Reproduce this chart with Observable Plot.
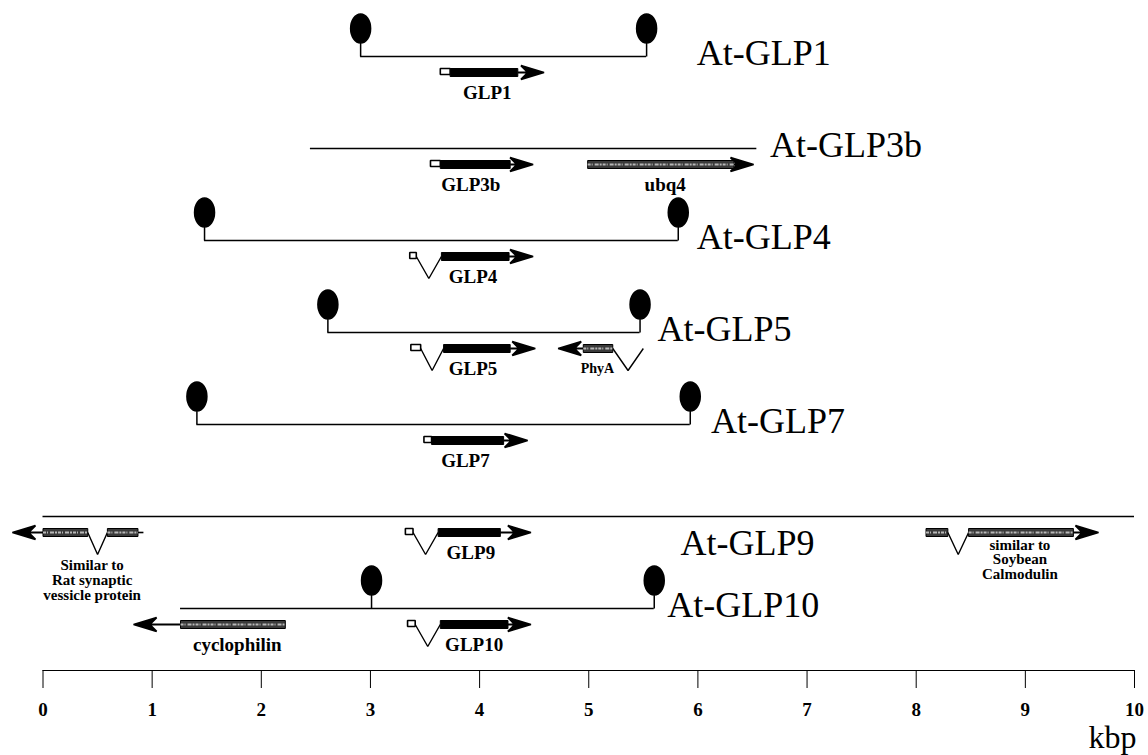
<!DOCTYPE html>
<html>
<head>
<meta charset="utf-8">
<script src="https://cdn.jsdelivr.net/npm/d3@7"></script>
<script src="https://cdn.jsdelivr.net/npm/@observablehq/plot@0.6"></script>
<style>
  html, body { margin: 0; padding: 0; background: #fff; }
  #chart svg { display: block; }
  #chart svg [aria-label="x-axis tick label"],
  #chart svg [aria-label="x-axis tick label"] text,
  #chart svg [aria-label="x-axis"] text { font-size: 19px !important; font-weight: bold; }
</style>
</head>
<body>
<div id="chart"></div>
<script>
// ---------------- data (kbp) ----------------
const rows = ["At-GLP1", "At-GLP3b", "At-GLP4", "At-GLP5", "At-GLP7", "At-GLP9", "At-GLP10"];

const backbones = [
  {row: "At-GLP1", start: 2.91, end: 5.53},
  {row: "At-GLP3b", start: 2.45, end: 6.54},
  {row: "At-GLP4", start: 1.48, end: 5.82},
  {row: "At-GLP5", start: 2.61, end: 5.47},
  {row: "At-GLP7", start: 1.41, end: 5.93},
  {row: "At-GLP9", start: 0.0, end: 10.0},
  {row: "At-GLP10", start: 1.26, end: 5.60}
];

const lollipops = [
  {row: "At-GLP1", pos: 2.91}, {row: "At-GLP1", pos: 5.53},
  {row: "At-GLP4", pos: 1.48}, {row: "At-GLP4", pos: 5.82},
  {row: "At-GLP5", pos: 2.61}, {row: "At-GLP5", pos: 5.47},
  {row: "At-GLP7", pos: 1.41}, {row: "At-GLP7", pos: 5.93},
  {row: "At-GLP10", pos: 3.01}, {row: "At-GLP10", pos: 5.60}
];

const rowLabels = [
  {row: "At-GLP1", pos: 5.99},
  {row: "At-GLP3b", pos: 6.66},
  {row: "At-GLP4", pos: 5.99},
  {row: "At-GLP5", pos: 5.63},
  {row: "At-GLP7", pos: 6.12},
  {row: "At-GLP9", pos: 5.84},
  {row: "At-GLP10", pos: 5.72}
];

// 5' untranslated leader exons (open boxes)
const leaderExons = [
  {row: "At-GLP1", start: 3.64, end: 3.73},
  {row: "At-GLP3b", start: 3.55, end: 3.64},
  {row: "At-GLP4", start: 3.36, end: 3.42},
  {row: "At-GLP5", start: 3.37, end: 3.46},
  {row: "At-GLP7", start: 3.49, end: 3.56},
  {row: "At-GLP9", start: 3.32, end: 3.39},
  {row: "At-GLP10", start: 3.34, end: 3.41}
];

// GLP coding exons (solid black)
const glpExons = [
  {row: "At-GLP1", start: 3.73, end: 4.35},
  {row: "At-GLP3b", start: 3.64, end: 4.28},
  {row: "At-GLP4", start: 3.65, end: 4.27},
  {row: "At-GLP5", start: 3.67, end: 4.28},
  {row: "At-GLP7", start: 3.56, end: 4.22},
  {row: "At-GLP9", start: 3.62, end: 4.19},
  {row: "At-GLP10", start: 3.64, end: 4.26}
];

// neighbouring genes' exons (stippled)
const otherExons = [
  {row: "At-GLP3b", gene: "ubq4", start: 4.99, end: 6.33},
  {row: "At-GLP5", gene: "PhyA", start: 4.95, end: 5.22},
  {row: "At-GLP9", gene: "rat", start: 0.00, end: 0.41},
  {row: "At-GLP9", gene: "rat", start: 0.59, end: 0.87},
  {row: "At-GLP9", gene: "calmodulin", start: 8.09, end: 8.29},
  {row: "At-GLP9", gene: "calmodulin", start: 8.48, end: 9.44},
  {row: "At-GLP10", gene: "cyclophilin", start: 1.26, end: 2.22}
];

// direction arrows: from the end of the last exon to the tip
const arrows = [
  {row: "At-GLP1", from: 4.35, to: 4.59},
  {row: "At-GLP3b", from: 4.28, to: 4.49},
  {row: "At-GLP3b", from: 6.33, to: 6.51},
  {row: "At-GLP4", from: 4.27, to: 4.49},
  {row: "At-GLP5", from: 4.28, to: 4.51},
  {row: "At-GLP5", from: 4.95, to: 4.72},
  {row: "At-GLP7", from: 4.22, to: 4.44},
  {row: "At-GLP9", from: 0.00, to: -0.28},
  {row: "At-GLP9", from: 4.19, to: 4.47},
  {row: "At-GLP9", from: 9.44, to: 9.67},
  {row: "At-GLP10", from: 1.26, to: 0.83},
  {row: "At-GLP10", from: 4.26, to: 4.47}
];

const tails = [
  {row: "At-GLP9", start: 0.87, end: 0.92}
];

const introns = [
  {row: "At-GLP4", start: 3.42, end: 3.65},
  {row: "At-GLP5", start: 3.46, end: 3.67},
  {row: "At-GLP5", start: 5.22, end: 5.50},
  {row: "At-GLP9", start: 3.39, end: 3.62},
  {row: "At-GLP9", start: 0.41, end: 0.59},
  {row: "At-GLP9", start: 8.29, end: 8.48},
  {row: "At-GLP10", start: 3.41, end: 3.64}
];

const geneLabels = [
  {row: "At-GLP1", pos: 4.07, text: "GLP1"},
  {row: "At-GLP3b", pos: 3.92, text: "GLP3b"},
  {row: "At-GLP3b", pos: 5.70, text: "ubq4"},
  {row: "At-GLP4", pos: 3.94, text: "GLP4"},
  {row: "At-GLP5", pos: 3.94, text: "GLP5"},
  {row: "At-GLP7", pos: 3.87, text: "GLP7"},
  {row: "At-GLP9", pos: 3.92, text: "GLP9"},
  {row: "At-GLP10", pos: 3.95, text: "GLP10"},
  {row: "At-GLP10", pos: 1.78, text: "cyclophilin"}
];
const smallLabels = [
  {row: "At-GLP5", pos: 5.08, text: "PhyA"}
];
const noteLow = [
  {row: "At-GLP9", pos: 0.45, text: "Similar to\nRat synaptic\nvessicle protein"}
];
const noteHigh = [
  {row: "At-GLP9", pos: 8.95, text: "similar to\nSoybean\nCalmodulin"}
];

const kbpTicks = [0, 1, 2, 3, 4, 5, 6, 7, 8, 9, 10];

// ---------------- custom shapes (pixel space) ----------------
const GENE_DY = 16;

function collect(draw) {
  return (ctx) => {
    let p = [];
    return {
      lineStart() { p = []; },
      point(x, y) { p.push([x, y]); },
      lineEnd() { if (p.length >= 2) draw(ctx, p[0], p[p.length - 1]); },
      areaStart() {}, areaEnd() {}
    };
  };
}
const rectCurve = (h, off = 0) => collect((ctx, [x1, y1], [x2]) => {
  const a = Math.min(x1, x2), b = Math.max(x1, x2);
  ctx.rect(a, y1 + off - h / 2, b - a, h);
});
const vCurve = (depth) => collect((ctx, [x1, y1], [x2]) => {
  ctx.moveTo(x1, y1);
  ctx.lineTo((x1 + x2) / 2, y1 + depth);
  ctx.lineTo(x2, y1);
});
const arrowCurve = (len, half, notch) => collect((ctx, [x1, y1], [x2]) => {
  const s = Math.sign(x2 - x1) || 1;
  ctx.moveTo(x1, y1);
  ctx.lineTo(x2 - s * (len - notch), y1);
  ctx.moveTo(x2, y1);
  ctx.lineTo(x2 - s * len, y1 - half);
  ctx.lineTo(x2 - s * (len - notch), y1);
  ctx.lineTo(x2 - s * len, y1 + half);
  ctx.closePath();
});
const lollipopSymbol = {
  draw(ctx) {
    const cy = -28, rx = 10, ry = 14.5, k = 0.5523;
    ctx.moveTo(rx, cy);
    ctx.bezierCurveTo(rx, cy + k * ry, k * rx, cy + ry, 0, cy + ry);
    ctx.bezierCurveTo(-k * rx, cy + ry, -rx, cy + k * ry, -rx, cy);
    ctx.bezierCurveTo(-rx, cy - k * ry, -k * rx, cy - ry, 0, cy - ry);
    ctx.bezierCurveTo(k * rx, cy - ry, rx, cy - k * ry, rx, cy);
    ctx.closePath();
    ctx.moveTo(0, cy + ry);
    ctx.lineTo(0, 0);
  }
};

const serif = "'Liberation Serif', 'DejaVu Serif', serif";

const chart = Plot.plot({
  width: 1148,
  height: 755,
  marginLeft: 42.5,
  marginRight: 14,
  marginTop: 0,
  marginBottom: 85,
  style: {fontFamily: serif, fontSize: "19px", fontWeight: "bold", color: "black", background: "white"},
  x: {domain: [0, 10], ticks: kbpTicks, tickSize: 18, tickPadding: 14, line: true, label: null, tickFormat: d => String(d)},
  y: {type: "point", domain: rows, range: [53, 610], padding: 0, axis: null},
  marks: [
    Plot.ruleY(backbones, {x1: "start", x2: "end", y: "row", stroke: "black", strokeWidth: 1.6}),
    Plot.dot(lollipops, {x: "pos", y: "row", symbol: lollipopSymbol, fill: "black", stroke: "black", strokeWidth: 1.5}),
    Plot.link(introns, {x1: "start", x2: "end", y1: "row", y2: "row", dy: GENE_DY, curve: vCurve(22), stroke: "black", strokeWidth: 1.4, fill: "none"}),
    Plot.link(tails, {x1: "start", x2: "end", y1: "row", y2: "row", dy: GENE_DY, stroke: "black", strokeWidth: 1.6}),
    Plot.link(arrows, {x1: "from", x2: "to", y1: "row", y2: "row", dy: GENE_DY, curve: arrowCurve(23, 7, 7), stroke: "black", strokeWidth: 1.8, fill: "black", strokeLinejoin: "miter"}),
    Plot.link(otherExons, {x1: "start", x2: "end", y1: "row", y2: "row", dy: GENE_DY, curve: rectCurve(8), fill: "#3a3a3a", stroke: "black", strokeWidth: 1}),
    Plot.link(otherExons, {x1: "start", x2: "end", y1: "row", y2: "row", dy: GENE_DY, stroke: "#b8b8b8", strokeWidth: 2, strokeDasharray: "3 1 1 2 4 1 2 1", strokeLinecap: "butt"}),
    Plot.link(glpExons, {x1: "start", x2: "end", y1: "row", y2: "row", dy: GENE_DY, curve: rectCurve(8), fill: "black", stroke: "black", strokeWidth: 1}),
    Plot.link(leaderExons, {x1: "start", x2: "end", y1: "row", y2: "row", dy: GENE_DY, curve: rectCurve(6, -1), fill: "white", stroke: "black", strokeWidth: 1.6}),
    Plot.text(rowLabels.filter(d => d.row !== "At-GLP9"), {x: "pos", y: "row", text: "row", textAnchor: "start", fontSize: 36, fontWeight: "normal", dy: -3}),
    Plot.text(rowLabels.filter(d => d.row === "At-GLP9"), {x: "pos", y: "row", text: "row", textAnchor: "start", fontSize: 36, fontWeight: "normal", dy: 27}),
    Plot.text(geneLabels, {x: "pos", y: "row", text: "text", fontSize: 19, fontWeight: "bold", dy: 36}),
    Plot.text(smallLabels, {x: "pos", y: "row", text: "text", fontSize: 14, fontWeight: "bold", dy: 36}),
    Plot.text(noteLow, {x: "pos", y: "row", text: "text", fontSize: 15, fontWeight: "bold", lineHeight: 1.0, dy: 64}),
    Plot.text(noteHigh, {x: "pos", y: "row", text: "text", fontSize: 15, fontWeight: "bold", lineHeight: 0.97, dy: 43}),
    Plot.text(["kbp"], {frameAnchor: "bottom-right", lineAnchor: "middle", text: d => d, fontSize: 32, fontWeight: "normal", dy: 67, dx: 2})
  ]
});
document.getElementById("chart").appendChild(chart);
</script>
</body>
</html>
